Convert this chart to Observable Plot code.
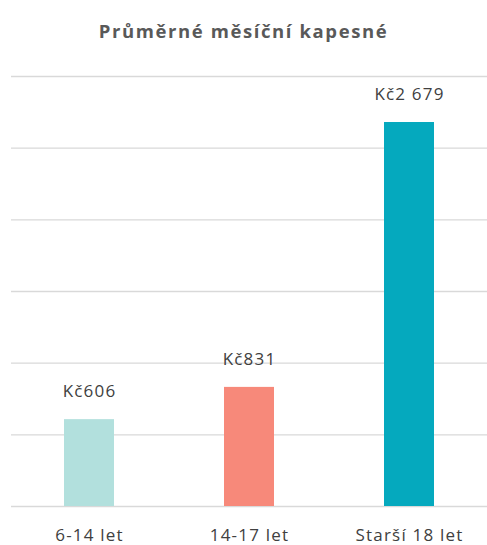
<!DOCTYPE html>
<html>
<head>
<meta charset="utf-8">
<script src="https://cdn.jsdelivr.net/npm/d3@7"></script>
<script src="https://cdn.jsdelivr.net/npm/@observablehq/plot@0.6"></script>
<style>
  body { margin: 0; background: #fff; font-family: "Open Sans", "Noto Sans", sans-serif; }
  #title { height: 60px; line-height: 62px; text-align: center; font-size: 18.5px; font-weight: 700; color: #595959; letter-spacing: 1.6px; }
  #chart text { letter-spacing: 1.2px; }
</style>
</head>
<body>
<div id="title">Průměrné měsíční kapesné</div>
<div id="chart"></div>
<script>
const categories = ["6-14 let", "14-17 let", "Starší 18 let"];
const values = [606, 831, 2679];
const colors = ["#B2E0DD", "#F7897A", "#05A9BE"];
const yTicks = [0, 500, 1000, 1500, 2000, 2500, 3000];

const data = categories.map((c, i) => ({ category: c, value: values[i], color: colors[i] }));
const loc = d3.formatLocale({ decimal: ",", thousands: " ", grouping: [3], currency: ["Kč", ""] });
const fmt = v => "Kč" + loc.format(",d")(v);

const chart = Plot.plot({
  width: 487,
  height: 485,
  marginLeft: 11,
  marginRight: 0,
  marginTop: 16,
  marginBottom: 39,
  style: { fontFamily: "'Open Sans', 'Noto Sans', sans-serif", fontSize: "17px", color: "#404040" },
  x: { domain: categories, paddingInner: 0.6875, paddingOuter: 0.33, label: null },
  y: { domain: [0, 3000], ticks: yTicks, label: null, axis: null },
  marks: [
    Plot.ruleY(yTicks, { stroke: "#D9D9D9", strokeWidth: 1.3 }),
    Plot.barY(data, { x: "category", y: "value", fill: "color" }),
    Plot.text(data, { x: "category", y: "value", text: d => fmt(d.value), dy: -28, fill: "#404040", fontSize: 17 }),
    Plot.axisX({ tickSize: 0, tickPadding: 22, fontSize: 17, fill: "#404040", label: null })
  ]
});
document.getElementById("chart").appendChild(chart);
</script>
</body>
</html>
